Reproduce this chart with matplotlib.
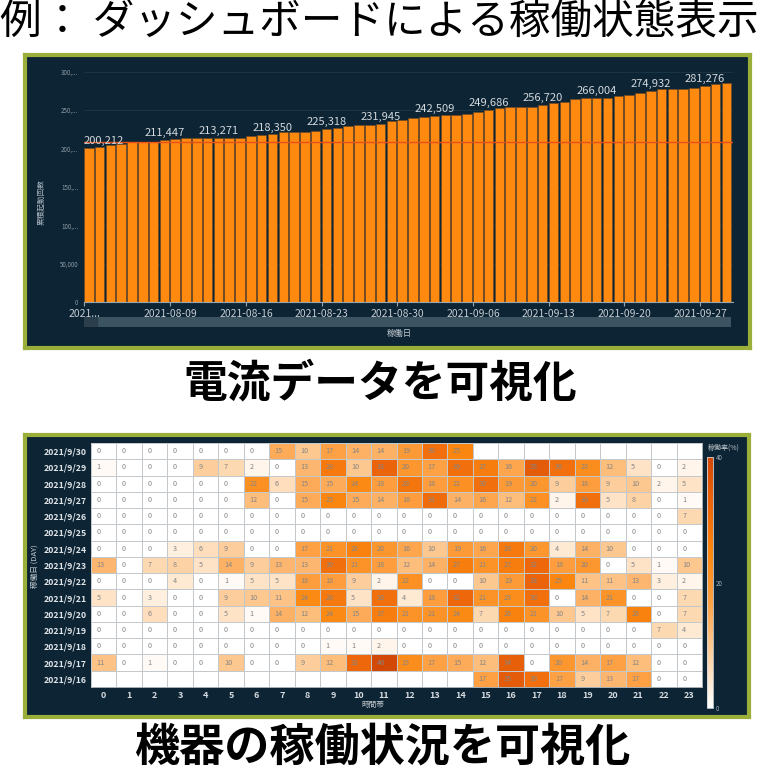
import matplotlib.pyplot as plt
import matplotlib.dates as mdates
from matplotlib.colors import LinearSegmentedColormap
from matplotlib.patches import Rectangle
import numpy as np
import pandas as pd

plt.rcParams['font.family'] = ['Noto Sans CJK JP', 'DejaVu Sans']

W, H = 761, 770
NAVY = '#0c2434'
OLIVE = '#9aae3a'


def box(x0, y0, x1, y1):
    # pixel box (top-left origin) -> figure coords
    return [x0 / W, 1 - y1 / H, (x1 - x0) / W, (y1 - y0) / H]


# ---- top chart: cumulative start count per day
dates = pd.date_range('2021-08-01', periods=60, freq='D')
starts = [200212, 201900, 204400, 206500, 208000, 208300, 208600, 211447,
          213000, 213100, 213150, 213200, 213271, 213300, 213400, 215800,
          217900, 218350, 221000, 221300, 221500, 223000, 225318, 226600,
          229300, 230600, 230800, 231945, 235400, 237100, 239700, 241500,
          242509, 243200, 243300, 245000, 247200, 249686, 252500, 254400,
          254500, 254600, 256720, 259300, 261000, 264000, 265900, 266004,
          266100, 267800, 270200, 272400, 274932, 277000, 277100, 277200,
          279400, 281276, 284400, 285700]
label_idx = [0, 7, 12, 17, 22, 27, 32, 37, 42, 47, 52, 57]
ref_value = 209000
y_ticks = [0, 50000, 100000, 150000, 200000, 250000, 300000]
y_tick_labels = ['0', '50,000', '100,...', '150,...', '200,...', '250,...', '300,...']
x_tick_dates = ['2021-08-01', '2021-08-09', '2021-08-16', '2021-08-23', '2021-08-30',
                '2021-09-06', '2021-09-13', '2021-09-20', '2021-09-27']
x_tick_labels = ['2021...', '2021-08-09', '2021-08-16', '2021-08-23', '2021-08-30',
                 '2021-09-06', '2021-09-13', '2021-09-20', '2021-09-27']

# ---- bottom chart: utilisation (%) per day x hour
hours = list(range(24))
days = ['2021/9/30', '2021/9/29', '2021/9/28', '2021/9/27', '2021/9/26',
        '2021/9/25', '2021/9/24', '2021/9/23', '2021/9/22', '2021/9/21',
        '2021/9/20', '2021/9/19', '2021/9/18', '2021/9/17', '2021/9/16']
N = np.nan
rate = [
    [0, 0, 0, 0, 0, 0, 0, 15, 10, 17, 14, 14, 19, 30, 25, N, N, N, N, N, N, N, N, N],
    [1, 0, 0, 0, 9, 7, 2, 0, 13, 28, 10, 33, 20, 17, 30, 27, 16, 35, 30, 23, 12, 5, 0, 2],
    [0, 0, 0, 0, 0, 0, 22, 6, 15, 15, 24, 18, 29, 18, 22, 30, 19, 20, 9, 18, 9, 10, 2, 5],
    [0, 0, 0, 0, 0, 0, 12, 0, 15, 25, 15, 14, 18, 31, 14, 16, 12, 22, 2, 30, 5, 8, 0, 1],
    [0, 0, 0, 0, 0, 0, 0, 0, 0, 0, 0, 0, 0, 0, 0, 0, 0, 0, 0, 0, 0, 0, 0, 7],
    [0, 0, 0, 0, 0, 0, 0, 0, 0, 0, 0, 0, 0, 0, 0, 0, 0, 0, 0, 0, 0, 0, 0, 0],
    [0, 0, 0, 3, 6, 9, 0, 0, 17, 21, 26, 20, 16, 10, 19, 16, 28, 20, 4, 14, 10, 0, 0, 0],
    [13, 0, 7, 8, 5, 14, 9, 13, 13, 30, 21, 18, 12, 14, 27, 21, 27, 32, 18, 20, 0, 5, 1, 10],
    [0, 0, 0, 4, 0, 1, 5, 5, 18, 18, 9, 2, 22, 0, 0, 10, 19, 33, 25, 11, 11, 13, 3, 2],
    [5, 0, 3, 0, 0, 9, 10, 11, 24, 28, 5, 30, 4, 18, 32, 21, 23, 30, 0, 14, 21, 0, 0, 7],
    [0, 0, 6, 0, 0, 5, 1, 14, 12, 24, 15, 27, 21, 21, 24, 7, 26, 21, 10, 5, 7, 26, 0, 7],
    [0, 0, 0, 0, 0, 0, 0, 0, 0, 0, 0, 0, 0, 0, 0, 0, 0, 0, 0, 0, 0, 0, 7, 4],
    [0, 0, 0, 0, 0, 0, 0, 0, 0, 1, 1, 2, 0, 0, 0, 0, 0, 0, 0, 0, 0, 0, 0, 0],
    [11, 0, 1, 0, 0, 10, 0, 0, 9, 12, 32, 40, 23, 17, 15, 12, 34, 0, 20, 14, 17, 12, 0, 0],
    [N, N, N, N, N, N, N, N, N, N, N, N, N, N, N, 17, 35, 30, 17, 9, 13, 17, 0, 0],
]

fig = plt.figure(figsize=(W / 100, H / 100), dpi=100)
fig.patch.set_facecolor('white')

# titles
fig.text(0 / W, 1 - 22 / H, '例： ダッシュボードによる稼働状態表示', fontsize=30,
         ha='left', va='center', color='black')
fig.text(380 / W, 1 - 384 / H, '電流データを可視化', fontsize=31.5, fontweight='bold',
         ha='center', va='center', color='black')
fig.text(382 / W, 1 - 748 / H, '機器の稼働状況を可視化', fontsize=32.5, fontweight='bold',
         ha='center', va='center', color='black')


def panel(x0, y0, x1, y1):
    bg = fig.add_axes(box(x0, y0, x1, y1))
    bg.set_facecolor(NAVY)
    bg.set_xticks([])
    bg.set_yticks([])
    for s in bg.spines.values():
        s.set_color(OLIVE)
        s.set_linewidth(3)
    return bg


# ================= top panel =================
panel(25, 55, 750, 348)
ax = fig.add_axes(box(84, 71.7, 733, 302.3))
ax.set_facecolor(NAVY)
x = mdates.date2num(dates)
ax.grid(axis='y', color='#1e3848', linewidth=0.6, zorder=0)
ax.bar(x, starts, width=0.88, align='edge', color='#ff8a0f', edgecolor='#6e4a26',
       linewidth=0.5, zorder=2)
ax.axhline(ref_value, color='#e8501a', linewidth=1.0, zorder=3)
for i in label_idx:
    if i == 0:
        ax.text(x[i], starts[i] + 2500, f'{starts[i]:,}', ha='left', va='bottom',
                fontsize=8, color='#d3d9de', zorder=4)
    else:
        ax.text(x[i] + 0.45, starts[i] + 2500, f'{starts[i]:,}', ha='center',
                va='bottom', fontsize=8, color='#d3d9de', zorder=4)
ax.set_xlim(x[0], x[-1] + 1.05)
ax.set_ylim(0, 300000)
ax.set_yticks(y_ticks)
ax.set_yticklabels(y_tick_labels, fontsize=4.5, color='#8d9aa4')
ax.set_xticks(mdates.date2num(pd.to_datetime(x_tick_dates)))
ax.set_xticklabels(x_tick_labels, fontsize=7.5, color='#c5ccd2')
ax.tick_params(axis='y', length=0, pad=4)
ax.tick_params(axis='x', length=3, color='#9aa5ad', pad=1.5)
for s in ['top', 'right', 'left']:
    ax.spines[s].set_visible(False)
ax.spines['bottom'].set_color('#9aa5ad')
ax.spines['bottom'].set_linewidth(0.8)
fig.text(41 / W, 1 - 202 / H, '累積起動回数', rotation=90, fontsize=5.5,
         color='#aab4bb', ha='center', va='center')

# scroll bar
sb = fig.add_axes(box(84, 317, 731, 327))
sb.set_facecolor('#3c5461')
sb.set_xlim(0, 1)
sb.set_ylim(0, 1)
sb.add_patch(Rectangle((0, 0), 0.02, 1, color='#2a3e4b'))
sb.set_xticks([])
sb.set_yticks([])
for s in sb.spines.values():
    s.set_visible(False)
fig.text(399 / W, 1 - 333 / H, '稼働日', fontsize=6, color='#c3cbd0',
         ha='center', va='center')

# ================= bottom panel =================
panel(25, 435, 749, 717)
hx = fig.add_axes(box(91, 443, 702, 687))
hx.set_facecolor('white')
cmap = LinearSegmentedColormap.from_list(
    'util', [(0.0, '#ffffff'), (0.2, '#fdd3a6'), (0.42, '#fda145'),
             (0.62, '#fb8710'), (0.82, '#ec640b'), (1.0, '#d24806')])
cmap.set_bad('white')
arr = np.ma.masked_invalid(np.array(rate, dtype=float))
mesh = hx.pcolormesh(np.arange(25), np.arange(16), arr, cmap=cmap, vmin=0, vmax=40,
                     edgecolors='#c3c8cc', linewidth=0.6)
for r, row in enumerate(rate):
    for c, v in enumerate(row):
        if not np.isnan(v):
            hx.text(c + 0.22, r + 0.5, f'{int(v)}', fontsize=5.2, color='#858585',
                    ha='left', va='center')
hx.set_xlim(0, 24)
hx.set_ylim(15, 0)
hx.set_xticks(np.arange(24) + 0.5)
hx.set_xticklabels([str(h) for h in hours], fontsize=6.5, color='#d5dbe0',
                   fontweight='bold')
hx.set_yticks(np.arange(15) + 0.5)
hx.set_yticklabels(days, fontsize=6.3, color='#dfe4e8', fontweight='bold')
hx.tick_params(length=0, pad=3)
for s in hx.spines.values():
    s.set_color('#c3c8cc')
    s.set_linewidth(0.6)
fig.text(373 / W, 1 - 705 / H, '時間帯', fontsize=5.5, color='#c3cbd0',
         ha='center', va='center')
fig.text(35 / W, 1 - 566 / H, '稼働日 (DAY)', rotation=90, fontsize=5.5,
         color='#c3cbd0', ha='center', va='center')

# colour bar
cax = fig.add_axes(box(707, 457, 713, 708))
cb = fig.colorbar(mesh, cax=cax, ticks=[0, 20, 40])
cb.ax.tick_params(labelsize=4.5, labelcolor='#a6b0b7', length=0, pad=2)
cb.outline.set_edgecolor('#d0d4d8')
cb.outline.set_linewidth(0.6)
fig.text(724 / W, 1 - 448 / H, '稼働率(%)', fontsize=5, color='#b8c1c7',
         ha='center', va='center')

fig.savefig('out.png', dpi=100, facecolor='white')
